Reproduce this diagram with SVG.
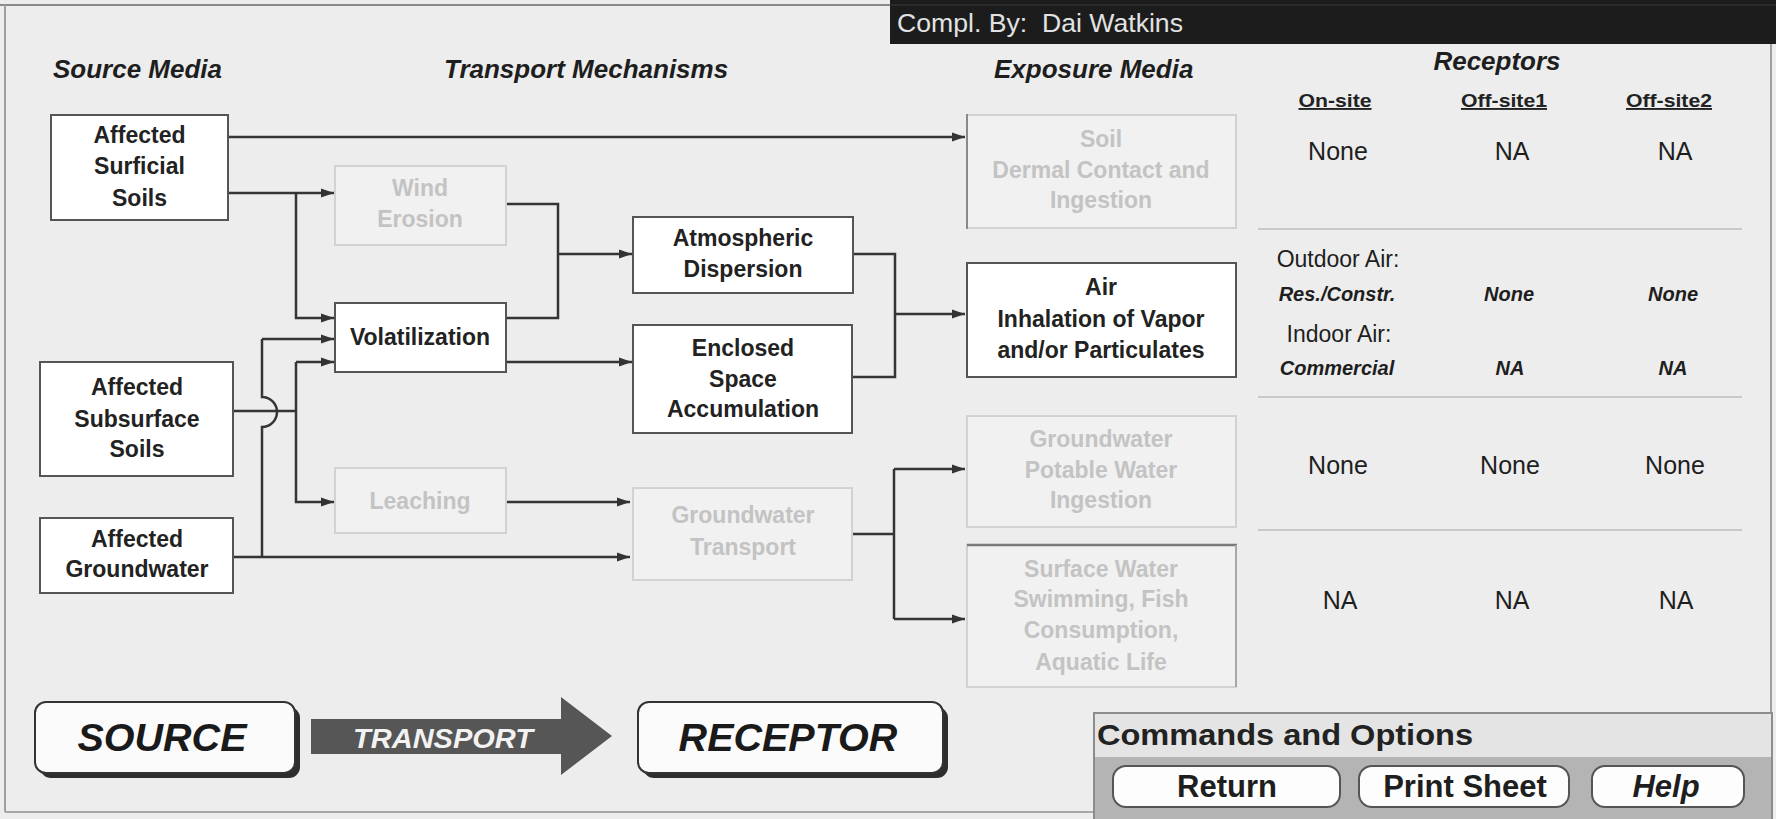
<svg xmlns="http://www.w3.org/2000/svg" width="1776" height="819" viewBox="0 0 1776 819">
<defs>
<marker id="ah" markerUnits="userSpaceOnUse" markerWidth="14" markerHeight="10" refX="13" refY="5" orient="auto">
<path d="M0,0.5 L13,5 L0,9.5 z" fill="#333"/>
</marker>
<style>
text{font-family:"Liberation Sans",Arial,sans-serif;}
.hd{font-size:26px;font-weight:bold;font-style:italic;fill:#1e1e1e;}
.bx{fill:#ffffff;stroke:#555;stroke-width:2;}
.fb{fill:#f1f1f1;stroke:#d2d2d2;stroke-width:2;}
.lb{font-size:23px;font-weight:bold;fill:#222;text-anchor:middle;}
.fl{font-size:23px;font-weight:bold;fill:#c3c3c3;text-anchor:middle;}
.rv{font-size:25px;fill:#1e1e1e;text-anchor:middle;}
.rs{font-size:23px;fill:#1e1e1e;text-anchor:middle;}
.ri{font-size:20px;font-weight:bold;font-style:italic;fill:#1e1e1e;text-anchor:middle;}
.ch{font-size:19px;font-weight:bold;fill:#222;text-anchor:middle;text-decoration:underline;}
.conn{fill:none;stroke:#353535;stroke-width:2.5;}
.big{font-size:39.5px;font-weight:bold;font-style:italic;fill:#1a1a1a;text-anchor:middle;}
.btn{fill:#fdfdfd;stroke:#555;stroke-width:2;}
.bt{font-size:31px;font-weight:bold;fill:#1e1e1e;text-anchor:middle;}
.div{stroke:#c9c9c9;stroke-width:2;}
</style>
</defs>

<!-- background and frame -->
<rect x="0" y="0" width="1776" height="819" fill="#ededed"/>
<line x1="0" y1="5" x2="890" y2="5" stroke="#8a8a8a" stroke-width="2"/>
<line x1="5" y1="5" x2="5" y2="812" stroke="#a0a0a0" stroke-width="2"/>
<line x1="5" y1="812" x2="1094" y2="812" stroke="#a8a8a8" stroke-width="2"/>
<line x1="1771" y1="44" x2="1771" y2="713" stroke="#a0a0a0" stroke-width="2"/>

<!-- header bar -->
<g id="header">
<rect x="890" y="0" width="886" height="44" fill="#1c1c1c"/>
<line x1="890" y1="5" x2="1776" y2="5" stroke="#3a3a3a" stroke-width="1"/>
<text x="897" y="32" font-size="25" fill="#e2e2e2" style="white-space:pre" textLength="286" lengthAdjust="spacingAndGlyphs">Compl. By:  Dai Watkins</text>
</g>

<!-- column headings -->
<g id="headings">
<text class="hd" x="53" y="78">Source Media</text>
<text class="hd" x="444" y="78">Transport Mechanisms</text>
<text class="hd" x="994" y="78">Exposure Media</text>
<text class="hd" x="1497" y="70" text-anchor="middle">Receptors</text>
</g>

<!-- connectors -->
<g id="connectors" class="conn">
<path d="M228,137 H965" marker-end="url(#ah)"/>
<path d="M228,193 H334" marker-end="url(#ah)"/>
<path d="M296,193 V318 H334" marker-end="url(#ah)"/>
<path d="M506,204 H558 V318 H506"/>
<path d="M558,254 H632" marker-end="url(#ah)"/>
<path d="M506,362 H632" marker-end="url(#ah)"/>
<path d="M233,411 H296"/>
<path d="M296,362 H334" marker-end="url(#ah)"/>
<path d="M296,362 V502 H334" marker-end="url(#ah)"/>
<path d="M262,339 H334" marker-end="url(#ah)"/>
<path d="M262,339 V397 A15,15 0 0 1 262,427 V557"/>
<path d="M233,557 H630" marker-end="url(#ah)"/>
<path d="M506,502 H630" marker-end="url(#ah)"/>
<path d="M853,254 H895 V377 H852"/>
<path d="M895,314 H965" marker-end="url(#ah)"/>
<path d="M852,534 H894"/>
<path d="M894,469 V619"/>
<path d="M894,469 H965" marker-end="url(#ah)"/>
<path d="M894,619 H965" marker-end="url(#ah)"/>
</g>

<!-- source media -->
<g id="surficial">
<rect class="bx" x="51" y="115" width="177" height="105"/>
<text class="lb" x="139.5" y="143">Affected</text>
<text class="lb" x="139.5" y="174">Surficial</text>
<text class="lb" x="139.5" y="206">Soils</text>
</g>
<g id="subsurface">
<rect class="bx" x="40" y="362" width="193" height="114"/>
<text class="lb" x="137" y="395">Affected</text>
<text class="lb" x="137" y="427">Subsurface</text>
<text class="lb" x="137" y="457">Soils</text>
</g>
<g id="groundwater-src">
<rect class="bx" x="40" y="518" width="193" height="75"/>
<text class="lb" x="137" y="547">Affected</text>
<text class="lb" x="137" y="577">Groundwater</text>
</g>

<!-- transport mechanisms -->
<g id="wind-erosion">
<rect class="fb" x="335" y="166" width="171" height="79" stroke="#b0b0b0"/>
<text class="fl" x="420" y="196">Wind</text>
<text class="fl" x="420" y="227">Erosion</text>
</g>
<g id="volatilization">
<rect class="bx" x="335" y="303" width="171" height="69"/>
<text class="lb" x="420" y="345">Volatilization</text>
</g>
<g id="leaching">
<rect class="fb" x="335" y="468" width="171" height="65"/>
<text class="fl" x="420" y="509">Leaching</text>
</g>
<g id="atmospheric">
<rect class="bx" x="633" y="217" width="220" height="76"/>
<text class="lb" x="743" y="246">Atmospheric</text>
<text class="lb" x="743" y="277">Dispersion</text>
</g>
<g id="enclosed">
<rect class="bx" x="633" y="325" width="219" height="108"/>
<text class="lb" x="743" y="356">Enclosed</text>
<text class="lb" x="743" y="387">Space</text>
<text class="lb" x="743" y="417">Accumulation</text>
</g>
<g id="gw-transport">
<rect class="fb" x="633" y="488" width="219" height="92"/>
<text class="fl" x="743" y="523">Groundwater</text>
<text class="fl" x="743" y="555">Transport</text>
</g>

<!-- exposure media -->
<g id="soil">
<rect class="fb" x="967" y="115" width="269" height="113"/>
<line x1="967" y1="114" x2="967" y2="229" stroke="#8a8a8a" stroke-width="2"/>
<text class="fl" x="1101" y="147">Soil</text>
<text class="fl" x="1101" y="178">Dermal Contact and</text>
<text class="fl" x="1101" y="208">Ingestion</text>
</g>
<g id="air">
<rect class="bx" x="967" y="263" width="269" height="114"/>
<text class="lb" x="1101" y="295">Air</text>
<text class="lb" x="1101" y="327">Inhalation of Vapor</text>
<text class="lb" x="1101" y="358">and/or Particulates</text>
</g>
<g id="gw-exposure">
<rect class="fb" x="967" y="416" width="269" height="111"/>
<text class="fl" x="1101" y="447">Groundwater</text>
<text class="fl" x="1101" y="478">Potable Water</text>
<text class="fl" x="1101" y="508">Ingestion</text>
</g>
<g id="surface-water">
<rect class="fb" x="967" y="545" width="269" height="142"/>
<line x1="967" y1="545" x2="1237" y2="545" stroke="#7a7a7a" stroke-width="2.5"/>
<line x1="1236" y1="545" x2="1236" y2="687" stroke="#a8a8a8" stroke-width="2"/>
<text class="fl" x="1101" y="577">Surface Water</text>
<text class="fl" x="1101" y="607">Swimming, Fish</text>
<text class="fl" x="1101" y="638">Consumption,</text>
<text class="fl" x="1101" y="670">Aquatic Life</text>
</g>

<!-- receptors table -->
<g id="receptors">
<text class="ch" x="1335" y="107" textLength="73" lengthAdjust="spacingAndGlyphs">On-site</text>
<text class="ch" x="1504" y="107" textLength="86" lengthAdjust="spacingAndGlyphs">Off-site1</text>
<text class="ch" x="1669" y="107" textLength="86" lengthAdjust="spacingAndGlyphs" fill="#666">Off-site2</text>
<text class="rv" x="1338" y="160">None</text>
<text class="rv" x="1512" y="160">NA</text>
<text class="rv" x="1675" y="160">NA</text>
<line class="div" x1="1258" y1="229" x2="1742" y2="229"/>
<text class="rs" x="1338" y="267">Outdoor Air:</text>
<text class="ri" x="1337" y="301">Res./Constr.</text>
<text class="ri" x="1509" y="301">None</text>
<text class="ri" x="1673" y="301">None</text>
<text class="rs" x="1339" y="342">Indoor Air:</text>
<text class="ri" x="1337" y="375">Commercial</text>
<text class="ri" x="1510" y="375">NA</text>
<text class="ri" x="1673" y="375">NA</text>
<line class="div" x1="1258" y1="397" x2="1742" y2="397"/>
<text class="rv" x="1338" y="474">None</text>
<text class="rv" x="1510" y="474">None</text>
<text class="rv" x="1675" y="474">None</text>
<line class="div" x1="1258" y1="530" x2="1742" y2="530" stroke="#d6d6d6"/>
<text class="rv" x="1340" y="609">NA</text>
<text class="rv" x="1512" y="609">NA</text>
<text class="rv" x="1676" y="609">NA</text>
</g>

<!-- legend -->
<g id="source-legend">
<rect x="40" y="707" width="260" height="71" rx="11" fill="#2e2e2e"/>
<rect x="35" y="702" width="260" height="71" rx="11" fill="#fbfbfb" stroke="#333" stroke-width="2"/>
<text class="big" x="162" y="751">SOURCE</text>
</g>
<g id="transport-legend">
<polygon points="311,719 561,719 561,697 612,736 561,775 561,754 311,754" fill="#565656"/>
<text x="443" y="748" font-size="27" font-weight="bold" font-style="italic" fill="#f2f2f2" text-anchor="middle" textLength="180" lengthAdjust="spacingAndGlyphs">TRANSPORT</text>
</g>
<g id="receptor-legend">
<rect x="643" y="707" width="305" height="71" rx="11" fill="#2e2e2e"/>
<rect x="638" y="702" width="305" height="71" rx="11" fill="#fbfbfb" stroke="#333" stroke-width="2"/>
<text class="big" x="788" y="751">RECEPTOR</text>
</g>

<!-- commands panel -->
<g id="commands">
<rect x="1094" y="713" width="678" height="106" fill="#e4e4e4" stroke="#8c8c8c" stroke-width="2"/>
<rect x="1095" y="757" width="676" height="62" fill="#b4b4b4"/>
<text x="1097" y="745" font-size="30" font-weight="bold" fill="#222" textLength="376" lengthAdjust="spacingAndGlyphs">Commands and Options</text>
</g>
<g id="btn-return">
<rect class="btn" x="1113" y="766" width="227" height="41" rx="13"/>
<text class="bt" x="1227" y="797">Return</text>
</g>
<g id="btn-print">
<rect class="btn" x="1359" y="766" width="210" height="41" rx="13"/>
<text class="bt" x="1465" y="797">Print Sheet</text>
</g>
<g id="btn-help">
<rect class="btn" x="1592" y="766" width="152" height="41" rx="13"/>
<text class="bt" x="1666" y="797" font-style="italic">Help</text>
</g>
</svg>
